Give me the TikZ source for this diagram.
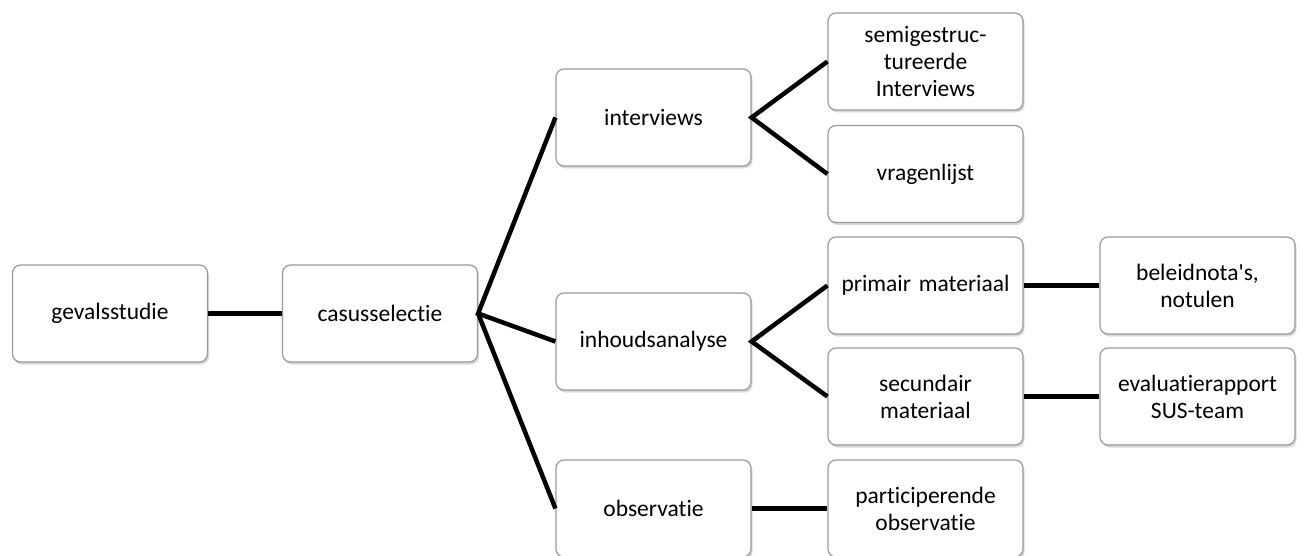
\documentclass[tikz,border=0pt]{standalone}
\usepackage{fontspec}
\newfontfamily\calib{Carlito}[Ligatures=NoCommon]
\usetikzlibrary{shadows}
\tikzset{
  box/.style={draw=black!40, line width=1.2pt, fill=white, rounded corners=8pt,
    minimum width=195pt, minimum height=97pt, inner sep=2pt, text width=185pt,
    align=center, font=\calib\fontsize{23.5}{27}\selectfont,
    drop shadow={shadow xshift=1.5pt, shadow yshift=-2.5pt, fill=black!30, opacity=0.5}},
  link/.style={line width=4.5pt, black}
}
\begin{document}
\begin{tikzpicture}[x=1pt,y=-1pt]
\useasboundingbox (0,0) rectangle (1303,556);
\node[box] (g) at (110,313.5) {gevalsstudie};
\node[box] (c) at (380,313.5) {casusselectie};
\node[box] (i) at (653.5,117.5) {interviews};
\node[box] (ia) at (653.5,341.5) {inhoudsanalyse};
\node[box] (o) at (653.5,508.5) {observatie};
\node[box] (s) at (925.5,61.5) {semigestruc-\\tureerde\\Interviews};
\node[box] (v) at (925.5,174) {vragenlijst};
\node[box] (p) at (925.5,285.5) {primair materiaal};
\node[box] (sm) at (925.5,396.5) {secundair\\materiaal};
\node[box] (pa) at (925.5,508.5) {participerende\\observatie};
\node[box] (b) at (1197.5,285.5) {beleidnota's,\\notulen};
\node[box] (e) at (1197.5,396.5) {evaluatierapport\\SUS-team};
\draw[link] (g.east) -- (c.west);
\draw[link] (i.west) -- (c.east) -- (ia.west);
\draw[link] (c.east) -- (o.west);
\draw[link] (s.west) -- (i.east) -- (v.west);
\draw[link] (p.west) -- (ia.east) -- (sm.west);
\draw[link] (p.east) -- (b.west);
\draw[link] (sm.east) -- (e.west);
\draw[link] (o.east) -- (pa.west);
\end{tikzpicture}
\end{document}
